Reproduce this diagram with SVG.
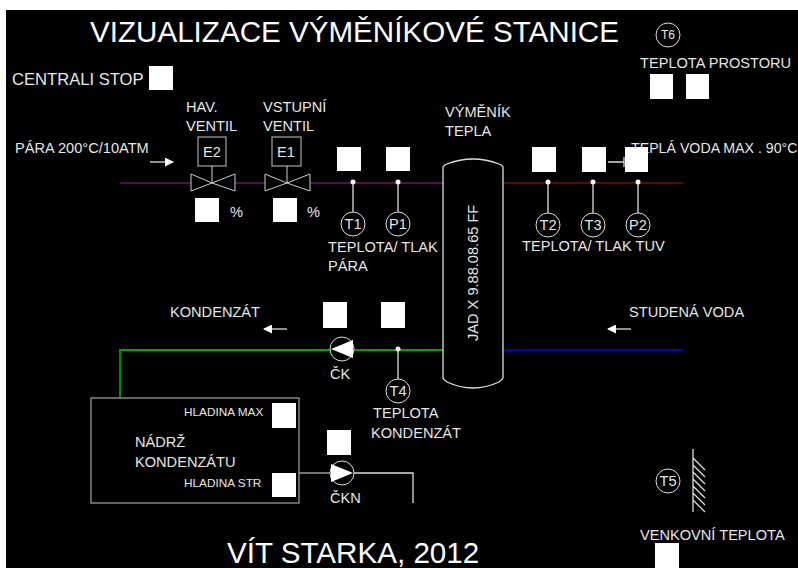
<svg xmlns="http://www.w3.org/2000/svg" width="798" height="568" viewBox="0 0 798 568">
<defs>
<marker id="ah" markerWidth="9" markerHeight="9" refX="8" refY="4.5" orient="auto" markerUnits="userSpaceOnUse"><path d="M0 0L9 4.5L0 9Z" fill="#fff"/></marker>
</defs>
<style>
text{font-family:"Liberation Sans",Arial,sans-serif;fill:#e6e6e6;font-size:14.6px}
.t{font-size:29.6px;fill:#fff}
.sq{fill:#fff}
.l{stroke:#ddd;stroke-width:1.3;fill:none}
.v{stroke:#ccc;stroke-width:1;fill:#000}
.g{stroke:#999;stroke-width:1.3;fill:none}
.c{stroke:#ddd;stroke-width:1;fill:#000}
.d{fill:#fff}
.m{text-anchor:middle}
.s{font-size:11.8px}
</style>
<rect width="798" height="568" fill="#fff"/>
<rect x="6" y="10" width="792" height="558" fill="#000"/>
<g id="connectors">
<path d="M120 183H443" stroke="#800080" stroke-width="1.3" fill="none"/>
<path d="M503 183H683" stroke="#8b0000" stroke-width="1.3" fill="none"/>
<path d="M120 398V350H443" stroke="#00a000" stroke-width="1.8" fill="none"/>
<path d="M503 350H683" stroke="#0000b0" stroke-width="1.8" fill="none"/>
<path class="g" d="M299 473H341"/>
<path class="l" d="M341 473H413V503"/>
<path class="l" d="M353 182V212M398 182V212M548 182V213M593 182V213M638 182V213M398 349V379"/>
<path class="l" d="M608 162H624M624 157V167"/>
<path class="l" d="M150 162H173" marker-end="url(#ah)"/>
<path class="l" d="M287 329H264" marker-end="url(#ah)"/>
<path class="l" d="M631 329H608" marker-end="url(#ah)"/>
</g>
<g id="title"><text class="t" x="90" y="42">VIZUALIZACE VÝMĚNÍKOVÉ STANICE</text></g>
<g id="central-stop"><text x="12" y="85" style="font-size:16.6px">CENTRALI STOP</text><rect class="sq" x="149" y="66" width="24" height="24"/></g>
<g id="para-label"><text x="15" y="153">PÁRA 200°C/10ATM</text></g>
<g id="valve-e2">
<text x="186" y="112">HAV.</text><text x="186" y="131">VENTIL</text>
<rect class="g" x="198" y="137" width="28" height="29"/><text class="m" x="212" y="157">E2</text>
<path class="v" d="M212 166V183M191 174V191L212 183ZM235 174V191L212 183Z"/>
<rect class="sq" x="195" y="198" width="24" height="24"/><text x="230" y="217">%</text>
</g>
<g id="valve-e1">
<text x="263" y="112">VSTUPNÍ</text><text x="263" y="131">VENTIL</text>
<rect class="g" x="272" y="137" width="29" height="29"/><text class="m" x="286" y="157">E1</text>
<path class="v" d="M287 166V183M265 174V191L287 183ZM310 174V191L287 183Z"/>
<rect class="sq" x="273" y="198" width="24" height="24"/><text x="307" y="217">%</text>
</g>
<g id="t1"><rect class="sq" x="337" y="147" width="24" height="24"/><circle class="d" cx="353" cy="182" r="2.5"/><circle class="c" cx="353" cy="224" r="12"/><text class="m" x="353" y="229">T1</text></g>
<g id="p1"><rect class="sq" x="386" y="147" width="24" height="24"/><circle class="d" cx="398" cy="182" r="2.5"/><circle class="c" cx="398" cy="224" r="12"/><text class="m" x="398" y="229">P1</text></g>
<g id="para-sensor-label"><text x="328" y="252">TEPLOTA/ TLAK</text><text x="328" y="271">PÁRA</text></g>
<g id="exchanger">
<text x="445" y="117">VÝMĚNÍK</text><text x="445" y="136">TEPLA</text>
<path class="l" d="M443 378V167Q444 165 447 164Q473 154 499 164Q502 165 503 167V378Q502 380 499 382Q473 394 447 382Q444 380 443 378Z"/>
<text transform="translate(478 341) rotate(-90)">JAD X 9.88.08.65 FF</text>
</g>
<g id="tuv-labels"><text x="522" y="251">TEPLOTA/ TLAK TUV</text><text x="631" y="153" style="font-size:14.2px">TEPLÁ VODA MAX . 90°C</text></g>
<g id="t2"><rect class="sq" x="532" y="147" width="24" height="25"/><circle class="d" cx="548" cy="182" r="2.5"/><circle class="c" cx="548" cy="225" r="12"/><text class="m" x="548" y="230">T2</text></g>
<g id="t3"><rect class="sq" x="582" y="147" width="24" height="25"/><circle class="d" cx="593" cy="182" r="2.5"/><circle class="c" cx="593" cy="225" r="12"/><text class="m" x="593" y="230">T3</text></g>
<g id="p2"><rect class="sq" x="625" y="147" width="23" height="25"/><circle class="d" cx="638" cy="182" r="2.5"/><circle class="c" cx="638" cy="225" r="12"/><text class="m" x="638" y="230">P2</text></g>
<g id="t6"><circle class="c" cx="668" cy="35" r="12"/><text class="m" x="668" y="39" style="font-size:12px">T6</text><text x="640" y="68">TEPLOTA PROSTORU</text><rect class="sq" x="650" y="74" width="23" height="25"/><rect class="sq" x="686" y="74" width="23" height="25"/></g>
<g id="kondenzat-label"><text x="170" y="317">KONDENZÁT</text><rect class="sq" x="323" y="302" width="24" height="26"/><rect class="sq" x="381" y="302" width="24" height="26"/></g>
<g id="voda-label"><text x="629" y="317">STUDENÁ VODA</text></g>
<g id="pump-ck"><circle class="c" cx="342" cy="349" r="12"/><path d="M331 349L353 340V358Z" fill="#fff"/><text x="330" y="379">ČK</text></g>
<g id="t4"><circle class="d" cx="398" cy="349" r="2.5"/><circle class="c" cx="398" cy="391" r="12"/><text class="m" x="398" y="396">T4</text><text x="373" y="418">TEPLOTA</text><text x="371" y="438">KONDENZÁT</text></g>
<g id="tank">
<rect class="g" x="91" y="398" width="208" height="105"/>
<text x="135" y="447">NÁDRŽ</text><text x="135" y="467">KONDENZÁTU</text>
<text class="s" x="184" y="416">HLADINA MAX</text><rect class="sq" x="272" y="403" width="24" height="25"/>
<text class="s" x="184" y="487">HLADINA STR</text><rect class="sq" x="272" y="473" width="24" height="24"/>
</g>
<g id="pump-ckn"><rect class="sq" x="327" y="430" width="24" height="25"/><circle class="c" cx="342" cy="473" r="12"/><path d="M353 473L331 464V482Z" fill="#fff"/><text x="330" y="503">ČKN</text></g>
<g id="t5"><circle class="c" cx="668" cy="481" r="12"/><text class="m" x="668" y="486">T5</text>
<path class="l" d="M693 449V512M693 458L705 470M693 465L705 477M693 472L705 484M693 479L705 491M693 486L705 498M693 493L705 505M693 500L705 512" stroke-width="1"/>
<text x="640" y="540">VENKOVNÍ TEPLOTA</text><rect class="sq" x="655" y="543" width="24" height="25"/></g>
<g id="author"><text class="t" x="227" y="563">VÍT STARKA, 2012</text></g>
</svg>
